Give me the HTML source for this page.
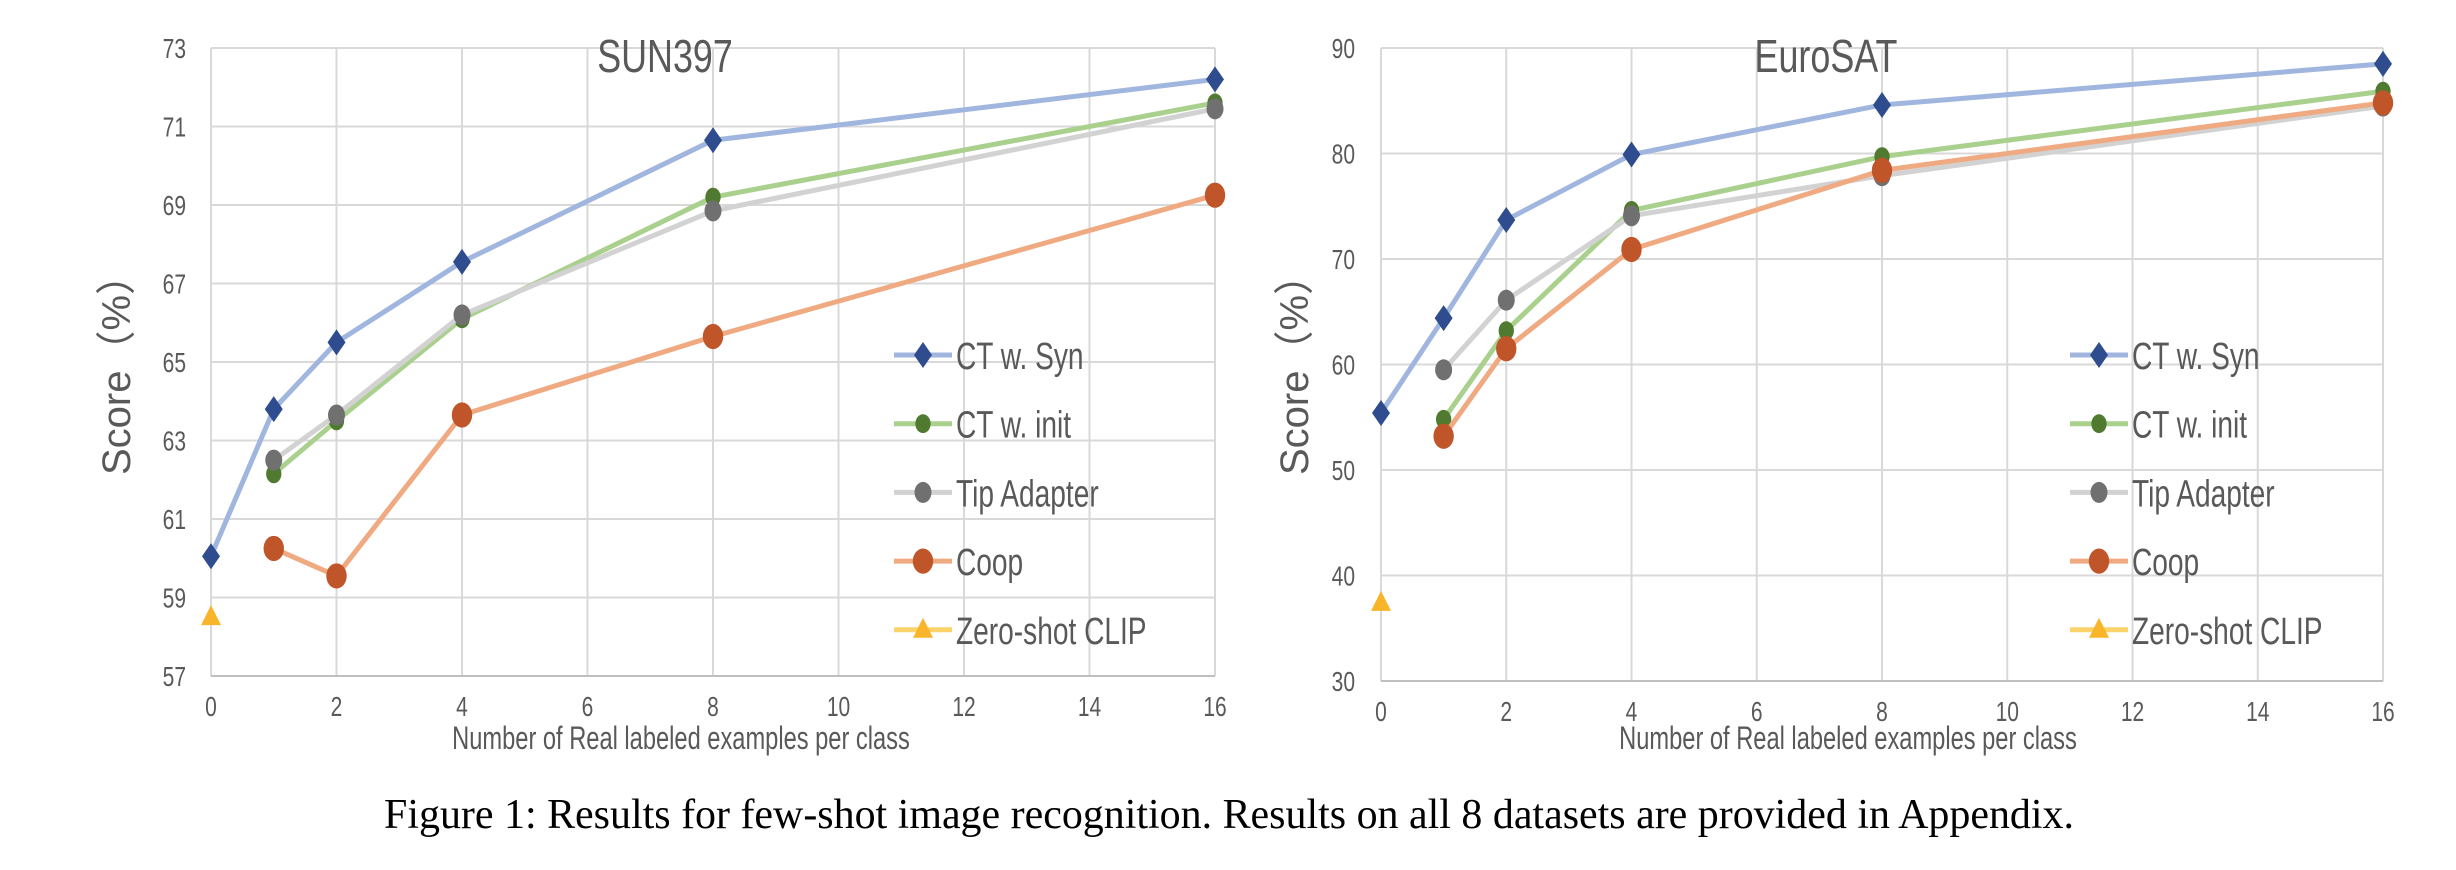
<!DOCTYPE html>
<html><head><meta charset="utf-8"><style>
html,body{margin:0;padding:0;background:#fff;}
svg{display:block;}
text{font-family:"Liberation Sans",sans-serif;}
</style></head><body>
<svg id="fig" width="2456" height="870" viewBox="0 0 2456 870" xmlns="http://www.w3.org/2000/svg">
<g id="c1"></g>
<g id="c2"></g>
<text x="384" y="828" textLength="1690" lengthAdjust="spacingAndGlyphs" style="font-family:'Liberation Serif',serif;font-size:42px" fill="#000">Figure 1: Results for few-shot image recognition. Results on all 8 datasets are provided in Appendix.</text>
</svg>
<script>
const xTicks = [0,2,4,6,8,10,12,14,16];
const seriesNames = ["CT w. Syn","CT w. init","Tip Adapter","Coop","Zero-shot CLIP"];
const sunSynX = [0,1,2,4,8,16];
const sunSyn = [60.05,63.8,65.5,67.55,70.65,72.2];
const sunInitX = [1,2,4,8,16];
const sunInit = [62.15,63.5,66.1,69.2,71.6];
const sunTip = [62.5,63.65,66.2,68.85,71.45];
const sunCoop = [60.25,59.55,63.65,65.65,69.25];
const sunZS = [58.5];
const sunYTicks = [57,59,61,63,65,67,69,71,73];
const euroSyn = [55.4,64.4,73.7,79.9,84.6,88.5];
const euroInit = [54.8,63.2,74.6,79.7,85.9];
const euroTip = [59.5,66.1,74.1,77.9,84.5];
const euroCoop = [53.2,61.5,70.9,78.4,84.8];
const euroZS = [37.4];
const euroYTicks = [30,40,50,60,70,80,90];

const NS="http://www.w3.org/2000/svg";
function mk(p,tag,attrs,txt){const e=document.createElementNS(NS,tag);for(const k in attrs)e.setAttribute(k,attrs[k]);if(txt!==undefined)e.textContent=txt;p.appendChild(e);return e;}
const styles=[
 {line:"#a0b6df",mark:"#2f4c8e",shape:"diamond",r:10},
 {line:"#a9d08c",mark:"#4f7a30",shape:"circle",r:9},
 {line:"#d2d2d2",mark:"#707070",shape:"circle",r:10},
 {line:"#f0aa82",mark:"#c0552a",shape:"circle",r:12},
 {line:"#fcd36a",mark:"#f8b52a",shape:"tri",r:12}];
function marker(g,s,x,y,name){
 let e;
 if(s.shape==="diamond") e=mk(g,"polygon",{points:`${x},${y-13} ${x+9},${y} ${x},${y+13} ${x-9},${y}`,fill:s.mark});
 else if(s.shape==="circle") e=mk(g,"ellipse",{cx:x,cy:y,rx:s.r*0.85,ry:s.r*1.05,fill:s.mark});
 else e=mk(g,"polygon",{points:`${x},${y-12} ${x+10},${y+8} ${x-10},${y+8}`,fill:s.mark});
 
 
}
function chart(g,o){
 const X=v=>o.x0+(o.x1-o.x0)*v/16;
 const Y=v=>o.y0+(o.y1-o.y0)*(v-o.ymin)/(o.ymax-o.ymin);
 xTicks.forEach(t=>{
  const l=mk(g,"line",{x1:X(t),x2:X(t),y1:o.y1,y2:o.y0,stroke:"#d9d9d9","stroke-width":2});
  
  
  const tx=mk(g,"text",{x:X(t),y:o.y0+40,"text-anchor":"middle","font-size":28,fill:"#595959",transform:`translate(${X(t)},0) scale(0.75,1) translate(${-X(t)},0)`},t);
  
  
 });
 o.yt.forEach(t=>{
  const l=mk(g,"line",{x1:o.x0,x2:o.x1,y1:Y(t),y2:Y(t),stroke:"#d9d9d9","stroke-width":2});
  
  
  const tx=mk(g,"text",{x:o.yl,y:Y(t)+10,"text-anchor":"end","font-size":28,fill:"#595959",transform:`translate(${o.yl},0) scale(0.75,1) translate(${-o.yl},0)`},t);
  
  
 });
 const ax=mk(g,"line",{x1:o.x0,x2:o.x1,y1:o.y0,y2:o.y0,stroke:"#bfbfbf","stroke-width":2});
 
 
 const tt=mk(g,"text",{x:o.tx,y:72,"text-anchor":"middle","font-size":46,fill:"#595959",transform:`translate(${o.tx},0) scale(0.78,1) translate(${-o.tx},0)`},o.title);
 
 
 const xt=mk(g,"text",{x:o.xtx,y:749,"text-anchor":"middle","font-size":32,fill:"#595959",transform:`translate(${o.xtx},0) scale(0.74,1) translate(${-o.xtx},0)`},"Number of Real labeled examples per class");
 
 
 const yt=mk(g,"text",{x:0,y:0,"text-anchor":"middle","font-size":40,fill:"#595959",transform:`translate(${o.ytx},365) rotate(-90)`},"Score（%）");
 
 
 o.series.forEach((sr,i)=>{
  const s=styles[i];
  const sg=mk(g,"g",{});
  
  
  if(sr.y.length>1){
   const p=mk(sg,"polyline",{points:sr.y.map((v,k)=>X(sr.x[k])+","+Y(v)).join(" "),fill:"none",stroke:s.line,"stroke-width":5,"stroke-linejoin":"round"});
   
   
  }
  sr.y.forEach((v,k)=>marker(sg,s,X(sr.x[k]),Y(v),'data-point'));
  // legend
  const ly=355+i*68.7;
  const lg=mk(g,"g",{});
  
  
  mk(lg,"line",{x1:o.lx,x2:o.lx+58,y1:ly,y2:ly,stroke:s.line,"stroke-width":5});
  marker(lg,s,o.lx+29,ly,'legend-marker');
  const lt=mk(lg,"text",{x:o.lx+62,y:ly+14,"font-size":38,fill:"#595959",transform:`translate(${o.lx+62},0) scale(0.74,1) translate(${-(o.lx+62)},0)`},seriesNames[i]);
  
  
 });
}
const ix=[1,2,4,8,16];
chart(document.getElementById("c1"),{x0:211,x1:1215,y0:676,y1:48,ymin:57,ymax:73,yt:sunYTicks,yl:186,title:"SUN397",tx:665,xtx:681,ytx:130,lx:894,
 series:[{x:sunSynX,y:sunSyn},{x:sunInitX,y:sunInit},{x:sunInitX,y:sunTip},{x:sunInitX,y:sunCoop},{x:[0],y:sunZS}]});
chart(document.getElementById("c2"),{x0:1381,x1:2383,y0:681,y1:48,ymin:30,ymax:90,yt:euroYTicks,yl:1355,title:"EuroSAT",tx:1826,xtx:1848,ytx:1308,lx:2070,
 series:[{x:sunSynX,y:euroSyn},{x:ix,y:euroInit},{x:ix,y:euroTip},{x:ix,y:euroCoop},{x:[0],y:euroZS}]});
</script>
</body></html>
